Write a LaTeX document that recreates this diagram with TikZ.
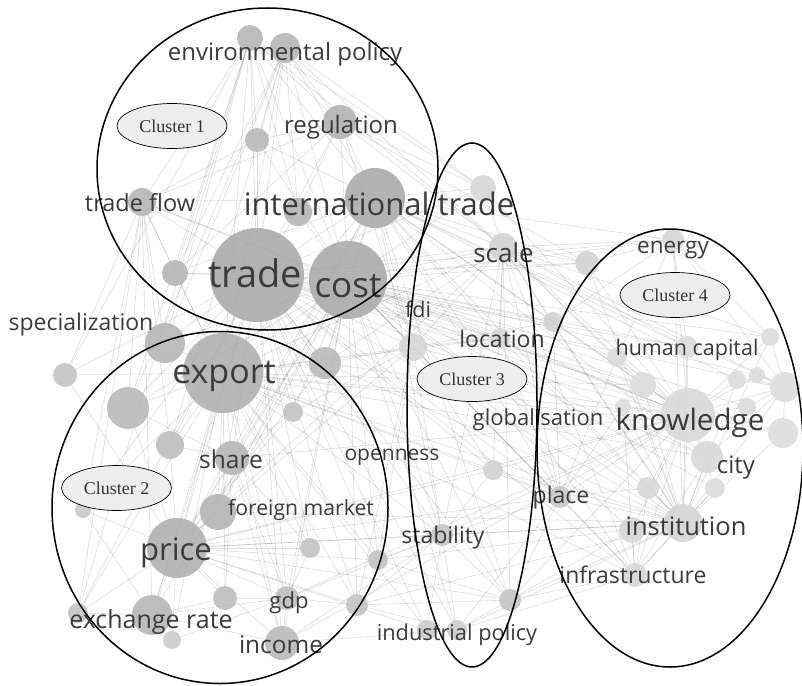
\documentclass[tikz,border=0pt]{standalone}
\usepackage{fontspec}
\setmainfont{Open Sans}
\newfontfamily\clfont{Liberation Serif}
\pgfdeclarelayer{bg}
\pgfsetlayers{bg,main}
\usetikzlibrary{shapes.geometric}
\tikzset{
  ballst/.style={circle, inner sep=0pt, draw=none, fill opacity=0.85},
  edge/.style={draw=black, draw opacity=0.13, line width=0.65pt},
  lbl/.style={font=\fontsize{#1}{#1}\selectfont, text=black!77, inner sep=0pt, anchor=base},
  clus/.style={draw=black, line width=1.5pt},
  cllab/.style={ellipse, draw=black, line width=0.7pt, fill=black!7, inner sep=0pt,
     minimum width=110pt, minimum height=45pt,
     font=\clfont\fontsize{18}{18}\selectfont, text=black!80}
}
% name, x, y, radius, grey level
\newcommand\bnode[5]{%
  \node[ballst, minimum size=#4*2pt, fill=black!#5] (#1) at (#2,#3) {};}
\begin{document}
\begin{tikzpicture}[x=1pt,y=-1pt]
\useasboundingbox (0,0) rectangle (802,685);
% cluster 1 balls
\bnode{envA}{250}{38}{13}{30}
\bnode{envB}{285}{48}{15}{30}
\bnode{reg}{340}{122}{17}{32}
\bnode{s1}{257}{140}{12}{29}
\bnode{tf}{142}{202}{14}{31}
\bnode{it}{375}{198}{30}{35}
\bnode{s2}{298}{212}{14}{31}
\bnode{tr}{257}{275}{47}{35}
\bnode{co}{348}{280}{39}{35}
\bnode{s3}{175}{273}{13}{30}
% cluster 2 balls
\bnode{sp}{165}{343}{20}{30}
\bnode{ex}{223}{373}{40}{33}
\bnode{s4}{65}{375}{12}{25}
\bnode{s5}{128}{408}{21}{29}
\bnode{s6}{325}{363}{16}{29}
\bnode{s7}{293}{412}{10}{25}
\bnode{s8}{170}{445}{14}{27}
\bnode{sh}{232}{458}{17}{30}
\bnode{s9}{83}{510}{8}{22}
\bnode{fm}{218}{512}{18}{31}
\bnode{pr}{177}{548}{30}{33}
\bnode{s10}{310}{548}{10}{25}
\bnode{s11}{378}{560}{10}{25}
\bnode{s12}{225}{598}{12}{27}
\bnode{gd}{287}{598}{12}{27}
\bnode{er}{152}{615}{20}{30}
\bnode{s13}{78}{613}{10}{25}
\bnode{s14}{172}{640}{9}{22}
\bnode{in}{282}{643}{17}{29}
\bnode{s15}{357}{605}{11}{25}
% cluster 3 balls
\bnode{s16}{483}{188}{13}{17}
\bnode{sc}{503}{247}{14}{19}
\bnode{s17}{587}{263}{12}{19}
\bnode{s18}{553}{322}{10}{19}
\bnode{fd}{413}{347}{14}{17}
\bnode{lo}{500}{338}{10}{17}
\bnode{s28}{493}{470}{10}{19}
\bnode{pl}{560}{497}{11}{23}
\bnode{st}{442}{535}{11}{25}
\bnode{s32}{510}{600}{11}{25}
\bnode{ip1}{427}{630}{10}{21}
\bnode{ip2}{457}{630}{10}{21}
% cluster 4 balls
\bnode{en}{673}{240}{11}{17}
\bnode{hc}{687}{347}{11}{15}
\bnode{s19}{617}{357}{10}{15}
\bnode{s20}{770}{337}{9}{15}
\bnode{s21}{643}{385}{13}{15}
\bnode{s22}{737}{380}{9}{15}
\bnode{s23}{757}{375}{8}{15}
\bnode{s24}{785}{387}{15}{14}
\bnode{kn}{688}{415}{27}{16}
\bnode{s25}{747}{407}{9}{15}
\bnode{s26}{783}{433}{15}{14}
\bnode{s27}{623}{407}{8}{15}
\bnode{ci}{707}{457}{16}{16}
\bnode{s29}{715}{488}{10}{15}
\bnode{s30}{648}{488}{11}{16}
\bnode{ins}{683}{523}{19}{18}
\bnode{s31}{632}{530}{13}{17}
\bnode{inf}{635}{575}{12}{17}
% edges
\begin{pgfonlayer}{bg}
\foreach \a in {envA,envB,reg,s1,tf,it,s2,co,s3,sp,ex,s4,s5,s6,s7,s8,sh,fm,pr,s10,s11,gd,er,in,s15,sc,s16,s17,en,s18,fd,lo,hc,s21,kn,ci,pl,ins,inf,st,s32,ip1,ip2,s24,s26,s28,s9,s13} \draw[edge] (tr) -- (\a);
\foreach \a in {envA,envB,reg,s1,tf,it,s2,s3,sp,ex,s5,s6,s7,sh,fm,pr,s11,gd,er,in,s15,sc,s16,s17,en,s18,fd,lo,hc,s19,s21,kn,s25,ci,s29,pl,s30,ins,s31,inf,st,s32,ip2,s20,s23} \draw[edge] (co) -- (\a);
\foreach \a in {envA,envB,reg,s1,tf,s2,s3,ex,s6,sh,fm,pr,sc,s16,s17,en,fd,lo,hc,kn,ci,pl,ins,inf,st,s32,s18,s22,s24} \draw[edge] (it) -- (\a);
\foreach \a in {envA,envB,tf,s3,sp,s4,s5,s6,s7,s8,sh,s9,fm,pr,s10,s11,s12,gd,er,s13,s14,in,s15,sc,fd,lo,kn,ci,pl,ins,inf,st,s28,ip1,s21,s26} \draw[edge] (ex) -- (\a);
\foreach \a in {s4,s5,s8,sh,s9,fm,s10,s11,s12,gd,er,s13,s14,in,s15,sc,kn,ins,pl,st,s28,s32,ip1,fd,s6,s7} \draw[edge] (pr) -- (\a);
\foreach \a in {en,s17,s18,lo,hc,s19,s20,s21,s22,s23,s24,s25,s26,s27,ci,s29,pl,s30,ins,s31,inf,sc,s16,fd,s28,st,s32,sh,s6,gd,in,tf} \draw[edge] (kn) -- (\a);
\foreach \a in {en,s17,s18,hc,s19,s20,s21,s22,s24,s26,s27,ci,s29,pl,s30,s31,inf,sc,lo,s28,st,s32,ip2,s11,fm,s15,s6} \draw[edge] (ins) -- (\a);
\foreach \a in {tf,s3,sp,s4,s5,s1,reg,envB,s2,s16,sc,s13} \draw[edge] (envA) -- (\a);
\foreach \a in {reg,s1,s2,s16,sc,s5,sp,s3,s8} \draw[edge] (envB) -- (\a);
\foreach \a in {s1,s2,s16,sc,tf,s3,s17,fd} \draw[edge] (reg) -- (\a);
\foreach \a in {s3,sp,s4,s5,s8,s1,s9,er,s13} \draw[edge] (tf) -- (\a);
\foreach \a in {s16,s17,en,s18,lo,fd,hc,s19,s21,pl,s28,st,s32,inf,s20,s24,s6} \draw[edge] (sc) -- (\a);
\foreach \a in {lo,s18,s28,st,pl,s6,s7,s11,s15} \draw[edge] (fd) -- (\a);
\foreach \a in {ip1,ip2,s32,s11,s15,in,gd,pl,s28} \draw[edge] (st) -- (\a);
\foreach \a in {s32,in,s15,pl,inf} \draw[edge] (ip2) -- (\a);
\foreach \a in {inf,s31,pl,s15,s11} \draw[edge] (s32) -- (\a);
\foreach \a in {s31,pl,s30,s29,ci,s27} \draw[edge] (inf) -- (\a);
\foreach \a in {s17,hc,s20,s19,s24,s18} \draw[edge] (en) -- (\a);
\foreach \a in {s5,s8,fm,s12,gd,in,s10,s7} \draw[edge] (sh) -- (\a);
\foreach \a in {in,s12,s10,er,s14,s15} \draw[edge] (gd) -- (\a);
\foreach \a in {s13,s14,s12,in,s9} \draw[edge] (er) -- (\a);
\foreach \a in {s20,s22,s23,s25,s26,ci} \draw[edge] (s24) -- (\a);
\foreach \a in {s28,s30,lo,s27,s18,s19} \draw[edge] (pl) -- (\a);
\end{pgfonlayer}
% labels
\node[lbl=24] (l1) at (285,60) {environmental policy};
\node[lbl=24] (l2) at (341,133) {regulation};
\node[lbl=23.5] (l3) at (140,211) {trade flow};
\node[lbl=31] (l4) at (379,215) {international trade};
\node[lbl=38] (l5) at (255,287) {trade};
\node[lbl=35] (l6) at (348,297) {cost};
\node[lbl=23] (l7) at (81,330) {specialization};
\node[lbl=21.5] (l8) at (418,317) {fdi};
\node[lbl=26] (l9) at (503.5,262) {scale};
\node[lbl=22.5] (l10) at (673,253) {energy};
\node[lbl=23] (l11) at (502,347) {location};
\node[lbl=21.5] (l12) at (687,355) {human capital};
\node[lbl=34] (l13) at (224,383) {export};
\node[lbl=22] (l14) at (538,425) {globalisation};
\node[lbl=29.5] (l15) at (690,430) {knowledge};
\node[lbl=21] (l16) at (392,460) {openness};
\node[lbl=24.5] (l17) at (231,468) {share};
\node[lbl=24] (l18) at (736,473) {city};
\node[lbl=23] (l19) at (561,503) {place};
\node[lbl=21.2] (l20) at (301,515) {foreign market};
\node[lbl=25.5] (l21) at (686,535) {institution};
\node[lbl=31] (l22) at (176,560) {price};
\node[lbl=23] (l23) at (443,543) {stability};
\node[lbl=23] (l24) at (633,583) {infrastructure};
\node[lbl=22] (l25) at (289,608) {gdp};
\node[lbl=25] (l26) at (151,628) {exchange rate};
\node[lbl=21.8] (l27) at (457,640) {industrial policy};
\node[lbl=24.4] (l28) at (281,653) {income};
% clusters
\draw[clus] (267.5,169) ellipse [x radius=170.5, y radius=161];
\draw[clus] (220,507.5) ellipse [x radius=168, y radius=176];
\draw[clus] (472,405) ellipse [x radius=65, y radius=262];
\draw[clus] (670,448) ellipse [x radius=133, y radius=219];
\node[cllab] (c1) at (172,126) {Cluster 1};
\node[cllab] (c2) at (116.5,488) {Cluster 2};
\node[cllab] (c3) at (472,379) {Cluster 3};
\node[cllab] (c4) at (675,295) {Cluster 4};
\end{tikzpicture}
\end{document}
